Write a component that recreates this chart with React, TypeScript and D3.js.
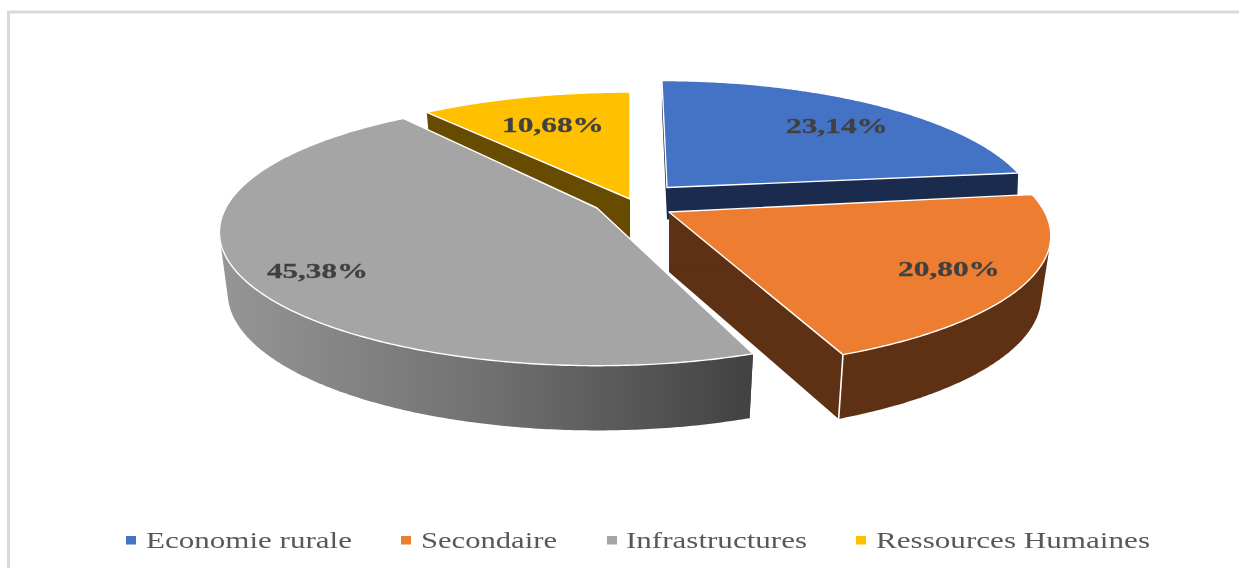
import React from "react";
import * as d3 from "d3";

const categories = ["Economie rurale", "Secondaire", "Infrastructures", "Ressources Humaines"];
const values = [23.14, 20.8, 45.38, 10.68];
const valueLabels = ["23,14%", "20,80%", "45,38%", "10,68%"];
const faceColors = ["#4472C4", "#ED7D31", "#A5A5A5", "#FFC000"];
const wallColors = ["#1B2B4D", "#5F3114", "url(#greyWall)", "#664B00"];

// Exploded-slice placement and perspective, in the same order as the categories
const apexX = [667, 669, 597, 630];
const apexY = [187.5, 212, 208, 199];
const radiusX = [362, 374, 369, 375];
const radiusY = [127, 128, 128, 127];
const lean = [6, 5, -9, 0];
const tilt = [0, -3, 4, 0];
const depth = [32, 60, 60, 60];
const wallKx = [0.997, 0.975, 0.978, 0.975];
const hasRim = [false, true, true, false];
const labelX = [837, 949, 317.5, 553];
const labelY = [133, 276, 278, 132];
const labelW = [102, 102, 101, 102];
const legendSwatchX = [126, 401, 607, 856];
const legendTextX = [146, 421, 626, 876];
const legendTextW = [206, 136, 181, 274];

const persp = 0.188;
const ky = 1.03;

const arcs = d3.pie<number>().sort(null).startAngle(0).endAngle(2 * Math.PI)(values);
const line = d3.line();

function project(i: number, a: number, bottom: boolean): [number, number] {
  const u = Math.sin(a);
  const v = -Math.cos(a);
  const w = 1 - persp * v;
  const x = (radiusX[i] * u + lean[i] * v) / w;
  const y = (radiusY[i] * v + tilt[i] * u) / w;
  return bottom
    ? [apexX[i] + x * wallKx[i], apexY[i] + y * ky + depth[i]]
    : [apexX[i] + x, apexY[i] + y];
}
function sweep(i: number, a0: number, a1: number, bottom: boolean) {
  const n = Math.max(2, Math.ceil(Math.abs(a1 - a0) / 0.01));
  return d3.range(n + 1).map((k) => project(i, a0 + ((a1 - a0) * k) / n, bottom));
}
const facePath = (i: number) => {
  const a = arcs[i];
  return line([[apexX[i], apexY[i]], ...sweep(i, a.startAngle, a.endAngle, false)]) + "Z";
};
// The curved wall is the hull of the top and bottom rims; the face is painted over its inner part.
const rimPath = (i: number) => {
  const a = arcs[i];
  const hull = d3.polygonHull([...sweep(i, a.startAngle, a.endAngle, false), ...sweep(i, a.startAngle, a.endAngle, true)]);
  return line(hull as [number, number][]) + "Z";
};
const radialPath = (i: number, angle: number) =>
  line([
    [apexX[i], apexY[i]],
    project(i, angle, false),
    project(i, angle, true),
    [apexX[i], apexY[i] + depth[i]],
  ]) + "Z";

// paint order: back slices first
const paintOrder = [3, 0, 2, 1];
const cornerSlice = 1;

export default function App() {
  const corner = arcs[cornerSlice].endAngle;
  return (
    <svg
      width={1239}
      height={568}
      viewBox="0 0 1239 568"
      style={{ position: "fixed", left: 0, top: 0, background: "#fff", display: "block" }}
    >
      <defs>
        <linearGradient id="greyWall" gradientUnits="userSpaceOnUse" x1={225} x2={755} y1={0} y2={0}>
          <stop offset="0" stopColor="#959595" />
          <stop offset="0.5" stopColor="#707070" />
          <stop offset="0.8" stopColor="#545454" />
          <stop offset="1" stopColor="#414141" />
        </linearGradient>
        <filter id="soft" x="-5%" y="-20%" width="110%" height="140%">
          <feGaussianBlur stdDeviation="0.4" />
        </filter>
      </defs>

      <path d="M1239 12H8.5V568" fill="none" stroke="#d9d9d9" strokeWidth={3} />

      {paintOrder.map((i) => (
        <g key={categories[i]}>
          <path d={radialPath(i, arcs[i].endAngle)} fill={wallColors[i]} />
          <path d={radialPath(i, arcs[i].startAngle)} fill={wallColors[i]} />
          {hasRim[i] && <path d={rimPath(i)} fill={wallColors[i]} />}
          {i === cornerSlice && (
            <path d={line([project(i, corner, false), project(i, corner, true)]) as string} stroke="#fff" strokeWidth={1.6} />
          )}
          <path d={facePath(i)} fill={faceColors[i]} stroke="#fff" strokeWidth={1.4} strokeLinejoin="round" />
        </g>
      ))}

      <g filter="url(#soft)" fontFamily="'Liberation Serif', serif">
        {valueLabels.map((t, i) => (
          <text
            key={t}
            x={labelX[i]}
            y={labelY[i]}
            textAnchor="middle"
            fontSize={22}
            fontWeight="bold"
            fill="#404040"
            stroke="#404040"
            strokeWidth={0.3}
            textLength={labelW[i]}
            lengthAdjust="spacingAndGlyphs"
          >
            {t}
          </text>
        ))}
        {categories.map((c, i) => (
          <text
            key={c}
            x={legendTextX[i]}
            y={548}
            fontSize={24}
            fill="#595959"
            textLength={legendTextW[i]}
            lengthAdjust="spacingAndGlyphs"
          >
            {c}
          </text>
        ))}
      </g>
      {categories.map((c, i) => (
        <rect key={c} x={legendSwatchX[i]} y={536} width={10} height={8.5} fill={faceColors[i]} />
      ))}
    </svg>
  );
}
